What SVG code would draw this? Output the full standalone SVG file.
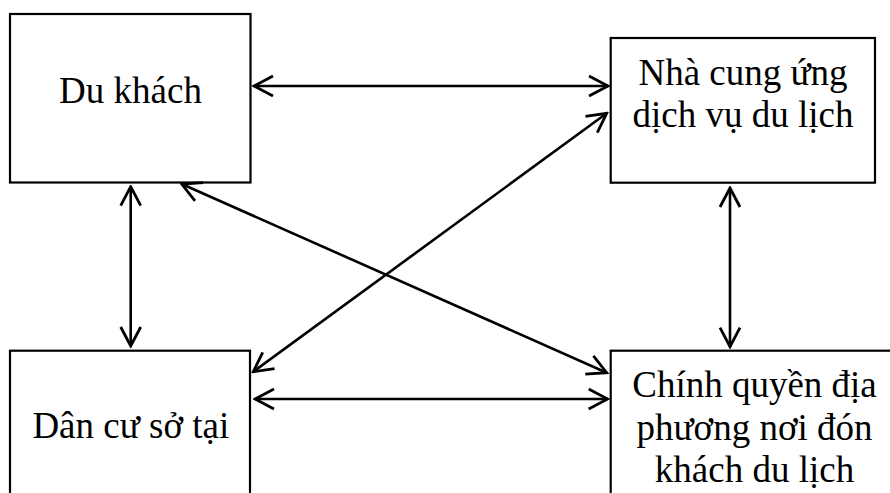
<svg xmlns="http://www.w3.org/2000/svg" width="890" height="493" viewBox="0 0 890 493">
<style>
.box{fill:#fff;stroke:#000;stroke-width:2.2}
.lbl{font-family:"Liberation Serif","Times New Roman",serif;font-size:37px;fill:#000;text-anchor:middle}
.con{stroke:#000;stroke-width:2.6;fill:none;marker-start:url(#ah);marker-end:url(#ah)}
</style>
<defs>
<marker id="ah" markerUnits="userSpaceOnUse" viewBox="-22 -12 24 24" refX="0" refY="0" markerWidth="24" markerHeight="24" orient="auto-start-reverse">
<path d="M -19 -10 L 0 0 L -19 10" fill="none" stroke="#000" stroke-width="2.8"/>
</marker>
</defs>
<rect width="890" height="493" fill="#fff"/>
<g id="du-khach">
<rect class="box" x="10" y="14" width="240.5" height="168.5"/>
<text class="lbl" x="130.5" y="102.5">Du khách</text>
</g>
<g id="nha-cung-ung">
<rect class="box" x="610.7" y="38" width="264.3" height="144.7"/>
<text class="lbl" x="743" y="85">Nhà cung ứng</text>
<text class="lbl" x="743" y="126.7">dịch vụ du lịch</text>
</g>
<g id="dan-cu">
<rect class="box" x="10" y="350.7" width="240" height="160"/>
<text class="lbl" x="130.8" y="438.3">Dân cư sở tại</text>
</g>
<g id="chinh-quyen">
<rect class="box" x="610.7" y="350.7" width="300" height="160"/>
<text class="lbl" x="754.5" y="396.7">Chính quyền địa</text>
<text class="lbl" x="754.5" y="439.5">phương nơi đón</text>
<text class="lbl" x="754.5" y="481.7">khách du lịch</text>
</g>
<g id="connectors">
<line class="con" x1="254" y1="86" x2="608" y2="86"/>
<line class="con" x1="255" y1="399" x2="607.7" y2="399"/>
<line class="con" x1="130.7" y1="186.7" x2="130.7" y2="346"/>
<line class="con" x1="730" y1="188" x2="730" y2="346.7"/>
<line class="con" x1="181.7" y1="184" x2="606.7" y2="372.7"/>
<line class="con" x1="253.3" y1="371.7" x2="606.7" y2="113.3"/>
</g>
</svg>
